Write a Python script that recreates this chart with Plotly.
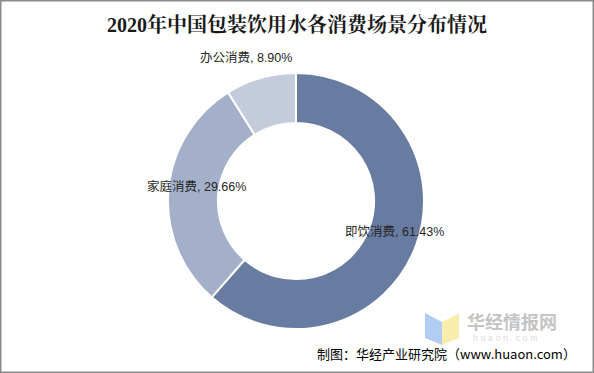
import plotly.graph_objects as go

categories = ["即饮消费", "家庭消费", "办公消费"]
values = [61.43, 29.66, 8.90]
colors = ["#687ba0", "#a4b0c9", "#c4cbdb"]
title = "2020年中国包装饮用水各消费场景分布情况"
source = "制图：华经产业研究院（www.huaon.com）"

W, H = 594, 373

fig = go.Figure(go.Pie(
    labels=categories, values=values, hole=0.61, sort=False,
    direction="clockwise", rotation=0,
    marker=dict(colors=colors, line=dict(color="white", width=2)),
    textinfo="none", hoverinfo="label+percent",
    domain=dict(x=[168 / W, 424 / W], y=[44 / H, 300 / H]),
    showlegend=False,
))

# label positions (pixel) for each slice
label_pos = [(394, 232), (196, 186), (246, 57)]
annotations = []
for cat, val, (px, py) in zip(categories, values, label_pos):
    annotations.append(dict(
        x=px / W, y=1 - py / H, xref="paper", yref="paper",
        text=f"{cat}, {val:.2f}%", showarrow=False,
        font=dict(family="Liberation Sans, Noto Sans CJK SC, sans-serif", size=12.5, color="#262626"),
        xanchor="center", yanchor="middle",
    ))

annotations.append(dict(
    x=297 / W, y=1 - 24 / H, xref="paper", yref="paper", text=f"<b>{title}</b>",
    showarrow=False, xanchor="center", yanchor="middle",
    font=dict(family="Liberation Serif, Noto Serif CJK SC, Noto Sans CJK SC, serif", size=20, color="#1a1a1a"),
))
annotations.append(dict(
    x=578 / W, y=1 - 353 / H, xref="paper", yref="paper", text=source,
    showarrow=False, xanchor="right", yanchor="middle",
    font=dict(family="Noto Sans CJK SC, Liberation Sans, sans-serif", size=13, color="#000000"),
))
# watermark text
annotations.append(dict(
    x=466 / W, y=1 - 321 / H, xref="paper", yref="paper", text="<b>华经情报网</b>",
    showarrow=False, xanchor="left", yanchor="middle", borderpad=0,
    font=dict(family="Noto Sans CJK SC, sans-serif", size=18, color="#c4c4c4"),
))
annotations.append(dict(
    x=472 / W, y=1 - 337.5 / H, xref="paper", yref="paper", text="h u a o n . c o m",
    showarrow=False, xanchor="left", yanchor="middle", borderpad=0,
    font=dict(family="Liberation Sans, sans-serif", size=9, color="#dadada"),
))

def P(x, y):
    return f"{x / W},{1 - y / H}"

shapes = [
    dict(type="rect", xref="paper", yref="paper", x0=0.5 / W, y0=0.5 / H, x1=1 - 0.5 / W, y1=1 - 0.5 / H,
         line=dict(color="#8c8c8c", width=2), fillcolor="rgba(0,0,0,0)", layer="above"),
    dict(type="path", xref="paper", yref="paper",
         path=f"M {P(425,313)} L {P(442,322)} L {P(442,345)} L {P(425,338)} Z",
         fillcolor="#a9c8f2", line=dict(width=0), opacity=0.9),
    dict(type="path", xref="paper", yref="paper",
         path=f"M {P(442,322)} L {P(459,313)} L {P(459,338)} L {P(442,345)} Z",
         fillcolor="#f7eba4", line=dict(width=0), opacity=0.9),
]

fig.update_layout(
    width=W, height=H, margin=dict(l=0, r=0, t=0, b=0),
    paper_bgcolor="white", plot_bgcolor="white",
    annotations=annotations, shapes=shapes,
)

fig.write_html(
    "out.html",
    config=dict(displayModeBar=False),
    post_script="document.body.style.margin='0';document.body.style.overflow='hidden';",
)
